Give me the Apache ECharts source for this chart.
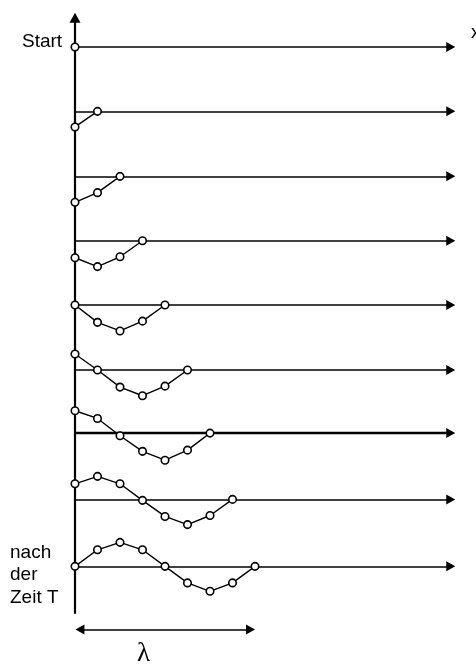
<!DOCTYPE html>
<html>
<head>
<meta charset="utf-8">
<script src="https://cdn.jsdelivr.net/npm/echarts@6/dist/echarts.min.js"></script>
<style>
html,body{margin:0;padding:0;background:#fff;}
#chart{width:476px;height:665px;}
</style>
</head>
<body>
<div id="chart"></div>
<script>
// positions of the wave points along the rope (in point spacings)
const pointIndex = [0, 1, 2, 3, 4, 5, 6, 7, 8];
// vertical position of each snapshot baseline (in row units, 0 = Start)
const rowPos = [0, 0.99, 1.99, 2.98, 3.97, 4.97, 5.94, 6.96, 7.99];
// displacement of each point (upwards positive, in amplitude units), one list per snapshot
const row0 = [0];
const row1 = [-0.65, 0];
const row2 = [-1.08, -0.68, 0];
const row3 = [-0.71, -1.08, -0.67, 0];
const row4 = [0, -0.72, -1.08, -0.67, 0];
const row5 = [0.67, 0, -0.71, -1.07, -0.67, 0];
const row6 = [0.93, 0.61, -0.11, -0.76, -1.13, -0.71, 0];
const row7 = [0.65, 0.96, 0.65, -0.04, -0.71, -1.05, -0.67, 0];
const row8 = [0, 0.69, 1.0, 0.69, 0, -0.69, -1.04, -0.69, 0];
const rows = [row0, row1, row2, row3, row4, row5, row6, row7, row8];
// wavelength marker spans from point 0 to point 8
const lambdaSpan = [0, 8];
const labels = { start: 'Start', end: ['nach', 'der', 'Zeit T'], xAxis: 'x', lambda: 'λ' };

const AMP = 24 / 65; // amplitude in row units
const AXIS_END = 16.7; // x position of horizontal arrow heads

const chart = echarts.init(document.getElementById('chart'), null, { renderer: 'canvas' });

const series = [];
// baselines with arrows
const baseLines = rowPos.map((r, k) => [
  { coord: [0, r], lineStyle: { width: k === 6 ? 2.4 : 1.5 } },
  { coord: [AXIS_END, r] }
]);
// vertical axis
baseLines.push([
  { coord: [0, 8.72], symbol: 'none', lineStyle: { width: 2.2 } },
  { coord: [0, -0.45], symbol: 'triangle', symbolSize: [11, 10] }
]);
// lambda double arrow
baseLines.push([
  { coord: [lambdaSpan[0] + 0.22, 8.96], symbol: 'triangle', lineStyle: { width: 1.6 } },
  { coord: [lambdaSpan[1] - 0.2, 8.96], symbol: 'triangle' }
]);

series.push({
  type: 'line',
  data: [],
  silent: true,
  markLine: {
    silent: true,
    animation: false,
    symbol: ['none', 'triangle'],
    symbolSize: [10, 9],
    label: { show: false },
    lineStyle: { color: '#000', type: 'solid', width: 1.5 },
    data: baseLines
  }
});

rows.forEach((disp, k) => {
  series.push({
    type: 'line',
    clip: false,
    silent: true,
    animation: false,
    z: 5,
    symbol: 'circle',
    symbolSize: 7.5,
    showSymbol: true,
    lineStyle: { color: '#000', width: 1.4 },
    itemStyle: { color: '#fff', borderColor: '#000', borderWidth: 1.6 },
    data: disp.map((d, j) => [pointIndex[j], rowPos[k] - AMP * d])
  });
});

const txt = { fill: '#000', font: '19px "Liberation Sans", Arial, sans-serif' };
chart.setOption({
  animation: false,
  backgroundColor: '#fff',
  grid: { left: 75, top: 8, width: 382.5, height: 643.5 },
  xAxis: { type: 'value', min: 0, max: 17, show: false },
  yAxis: { type: 'value', min: -0.6, max: 9.3, inverse: true, show: false },
  series: series,
  graphic: [
    { type: 'text', left: 22, top: 32, style: Object.assign({ text: labels.start }, txt) },
    { type: 'text', left: 471, top: 23, style: Object.assign({ text: labels.xAxis }, txt) },
    { type: 'text', left: 10, top: 541, style: Object.assign({ text: labels.end.join('\n'), lineHeight: 22.7 }, txt) },
    { type: 'text', left: 137, top: 640, style: { text: labels.lambda, fill: '#000', font: '27px "Liberation Serif", "DejaVu Serif", serif' } }
  ]
});
</script>
</body>
</html>
